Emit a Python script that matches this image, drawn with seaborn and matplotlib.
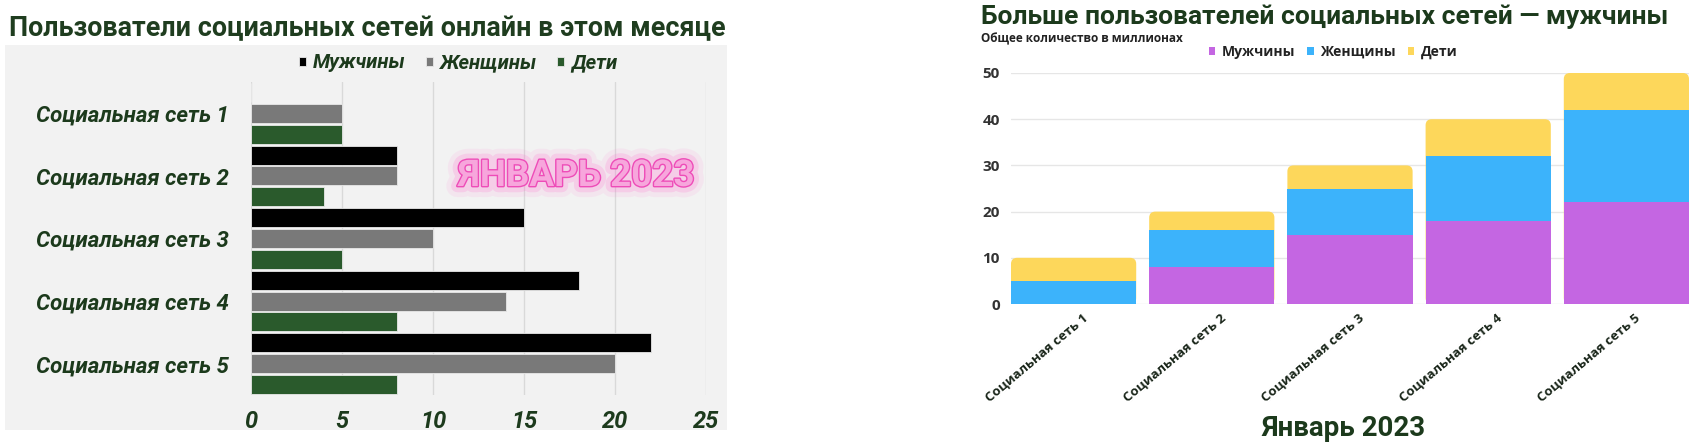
import numpy as np
import pandas as pd
import matplotlib
matplotlib.use("Agg")
import matplotlib.pyplot as plt
import matplotlib.patheffects as pe
from matplotlib import font_manager
from matplotlib.patches import Rectangle, FancyBboxPatch
from matplotlib.transforms import ScaledTranslation
import seaborn as sns

# ---------------- data ----------------
platforms = ["Социальная сеть 1", "Социальная сеть 2", "Социальная сеть 3",
             "Социальная сеть 4", "Социальная сеть 5"]
groups = ["Мужчины", "Женщины", "Дети"]
men = [0, 8, 15, 18, 22]
women = [5, 8, 10, 14, 20]
kids = [5, 4, 5, 8, 8]
left_ticks = [0, 5, 10, 15, 20, 25]
right_ticks = [0, 10, 20, 30, 40, 50]

left_title = "Пользователи социальных сетей онлайн в этом месяце"
right_title = "Больше пользователей социальных сетей — мужчины"
right_subtitle = "Общее количество в миллионах"
right_caption = "Январь 2023"
watermark = "ЯНВАРЬ 2023"

left_colors = ["#000000", "#797979", "#2a5a2c"]
right_colors = ["#c466e2", "#3cb3fb", "#fdd75b"]
green_text = "#1c3a1c"

# ---------------- style ----------------
sns.set_theme(style="white")
installed = {f.name for f in font_manager.fontManager.ttflist}


def pick(*names):
    for n in names:
        if n in installed:
            return n
    return "DejaVu Sans"


main_font = pick("Roboto", "Open Sans")
narrow_font = pick("Liberation Sans Narrow", "Roboto")
open_font = pick("Open Sans", "Roboto")
plt.rcParams["font.family"] = [main_font, "DejaVu Sans"]

W, H = 1706, 445
fig = plt.figure(figsize=(W / 100, H / 100), dpi=100)
fig.patch.set_facecolor("white")


def fx(px):
    return px / W


def fy(py):
    return 1 - py / H


# light panel behind the left chart
fig.patches.append(Rectangle((fx(5), fy(430)), fx(727) - fx(5), fy(45) - fy(430),
                             transform=fig.transFigure, facecolor="#f2f2f2",
                             edgecolor="none", zorder=-5))

# ---------------- left chart ----------------
axL = fig.add_axes([fx(251), fy(395), fx(706) - fx(251), fy(82) - fy(395)])
axL.set_facecolor("none")
dfL = pd.DataFrame({
    "Платформа": platforms * 3,
    "Группа": np.repeat(groups, len(platforms)),
    "Пользователи": men + women + kids,
})
sns.barplot(data=dfL, y="Платформа", x="Пользователи", hue="Группа",
            order=platforms, hue_order=groups, palette=left_colors,
            orient="h", width=1.0, gap=0.09, errorbar=None, saturation=1,
            edgecolor="#e8e8e8", linewidth=0.6, ax=axL)
axL.set_xlim(0, 25)
axL.set_ylim(4.5, -0.5)
axL.set_xticks(left_ticks)
axL.set_axisbelow(True)
axL.grid(axis="x", color="#d9d9d9", lw=1)
axL.grid(axis="y", visible=False)
sns.despine(ax=axL, left=True, bottom=True)
axL.set_xlabel("")
axL.set_ylabel("")
axL.tick_params(axis="both", length=0)
axL.tick_params(axis="x", pad=11)
axL.tick_params(axis="y", pad=16)
for lab in axL.get_xticklabels():
    lab.set_fontsize(17)
for lab in axL.get_yticklabels():
    lab.set_fontsize(16)
for lab in axL.get_xticklabels() + axL.get_yticklabels():
    lab.set_fontweight("bold")
    lab.set_fontstyle("italic")
    lab.set_color(green_text)

handles, labels = axL.get_legend_handles_labels()
if axL.get_legend() is not None:
    axL.get_legend().remove()
fig.legend(handles, labels, loc="center", bbox_to_anchor=(fx(458), fy(63)),
           ncol=3, frameon=False,
           prop=dict(weight="bold", style="italic", size=14.5),
           handlelength=0.35, handleheight=0.35, handletextpad=0.35,
           columnspacing=1.0, labelcolor=green_text)

fig.text(fx(9), fy(29), left_title, ha="left", va="center", fontsize=19.4,
         fontweight="bold", color="#1f3d1f")

fig.text(fx(576), fy(176), watermark, ha="center", va="center",
         family=[narrow_font, "DejaVu Sans"], fontweight="bold", fontsize=26.5,
         color="#f7a6dc", zorder=6,
         path_effects=[pe.withStroke(linewidth=16, foreground="#ff7ad4", alpha=0.10),
                       pe.withStroke(linewidth=9, foreground="#ff62cc", alpha=0.18),
                       pe.withStroke(linewidth=2.0, foreground="#ee4cb8")])

# ---------------- right chart ----------------
axR = fig.add_axes([fx(1011), fy(304), fx(1689) - fx(1011), fy(73) - fy(304)])
totals = [m + w + k for m, w, k in zip(men, women, kids)]
men_women = [m + w for m, w in zip(men, women)]
dfR = pd.DataFrame({"Платформа": platforms, "Всего": totals,
                    "МЖ": men_women, "М": men})
for col, colour, name in [("Всего", right_colors[2], groups[2]),
                          ("МЖ", right_colors[1], groups[1]),
                          ("М", right_colors[0], groups[0])]:
    sns.barplot(data=dfR, x="Платформа", y=col, order=platforms,
                color=colour, width=0.906, saturation=1, errorbar=None,
                linewidth=0, edgecolor="none", ax=axR, label=name)
hR, lR = axR.get_legend_handles_labels()
if axR.get_legend() is not None:
    axR.get_legend().remove()
order = [lR.index(g) for g in groups]
fig.legend([hR[i] for i in order], [lR[i] for i in order], loc="center",
           bbox_to_anchor=(fx(1333), fy(52)), ncol=3, frameon=False,
           prop=dict(family=[open_font, "DejaVu Sans"], weight="bold", size=10),
           handlelength=0.45, handleheight=0.45, handletextpad=0.45,
           columnspacing=0.9, labelcolor="#222222")

axR.set_xlim(-0.453, 4.453)
axR.set_ylim(0, 50)

# round the top corners of the stacks (replace the top layer's rectangles)
top_container = axR.containers[0]
for rect in top_container.patches:
    x0, y0 = rect.get_x(), rect.get_y()
    w, h = rect.get_width(), rect.get_height()
    rect.set_visible(False)
    rp = FancyBboxPatch((x0, y0), w, h,
                        boxstyle="round,pad=0,rounding_size=0.045",
                        mutation_aspect=29.0, facecolor=rect.get_facecolor(),
                        edgecolor="none", zorder=rect.get_zorder())
    axR.add_patch(rp)
for cont in axR.containers[1:]:
    for rect in cont.patches:
        rect.set_zorder(rect.get_zorder() + 0.5)

axR.set_yticks(right_ticks)
axR.set_axisbelow(True)
axR.grid(axis="y", color="#e6e6e6", lw=1)
axR.grid(axis="x", visible=False)
sns.despine(ax=axR, left=True, bottom=True)
axR.set_xlabel("")
axR.set_ylabel("")
axR.tick_params(axis="both", length=0)
axR.tick_params(axis="y", pad=8)
axR.tick_params(axis="x", pad=5, labelrotation=40)
for lab in axR.get_yticklabels():
    lab.set_family([open_font, "DejaVu Sans"])
    lab.set_fontsize(11)
    lab.set_fontweight("bold")
    lab.set_color("#333333")
offset = ScaledTranslation(0.08, 0, fig.dpi_scale_trans)
for lab in axR.get_xticklabels():
    lab.set_family([open_font, "DejaVu Sans"])
    lab.set_fontsize(9.5)
    lab.set_fontweight("bold")
    lab.set_color("#1a261a")
    lab.set_ha("right")
    lab.set_va("top")
    lab.set_rotation_mode("anchor")
    lab.set_transform(lab.get_transform() + offset)

fig.text(fx(981), fy(17), right_title, ha="left", va="center", fontsize=19,
         fontweight="bold", color="#1c3a1c")
fig.text(fx(981), fy(39), right_subtitle, ha="left", va="center", fontsize=8.5,
         fontweight="bold", color="#222222", family=[open_font, "DejaVu Sans"])
fig.text(fx(1344), fy(429), right_caption, ha="center", va="center", fontsize=20,
         fontweight="bold", color="#1c3a1c")

fig.savefig("out.png", dpi=100)
